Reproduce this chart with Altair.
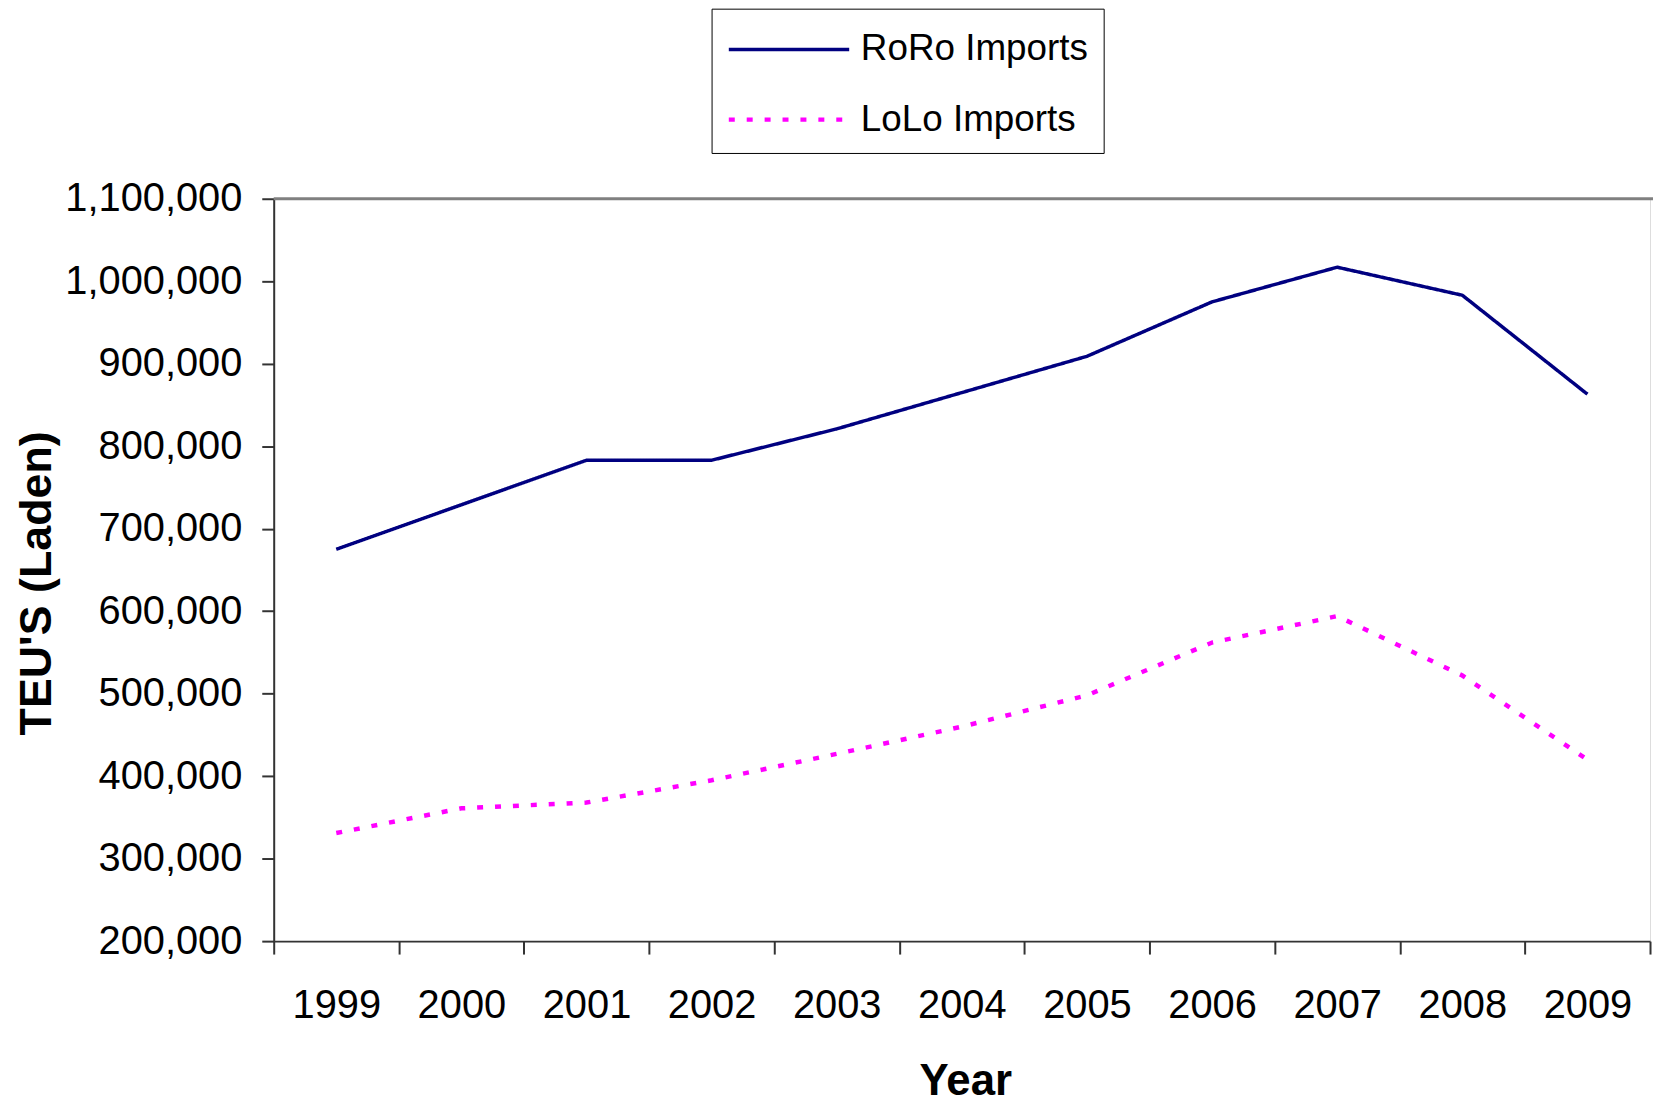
import altair as alt
import pandas as pd

years = ["1999", "2000", "2001", "2002", "2003", "2004", "2005", "2006", "2007", "2008", "2009"]
roro = [675000, 729000, 783000, 783000, 821000, 865000, 909000, 975000, 1017000, 983000, 863000]
lolo = [331000, 361000, 368000, 395000, 427000, 460000, 498000, 562000, 594000, 522000, 420000]
series_names = ["RoRo Imports", "LoLo Imports"]
series_colors = ["#000080", "#FF00FF"]
y_ticks = [200000, 300000, 400000, 500000, 600000, 700000, 800000, 900000, 1000000, 1100000]

df = pd.DataFrame({
    "Year": years + years,
    "TEU": roro + lolo,
    "Series": [series_names[0]] * len(years) + [series_names[1]] * len(years),
})

W, H = 1383, 746
FONT = "Liberation Sans, Arial, sans-serif"

legend = alt.Legend(
    title=None, orient="none", legendX=440, legendY=-191,
    symbolType="M-1,0H4", symbolSize=2342, symbolStrokeWidth=3,
    labelFont=FONT, labelFontSize=37, labelColor="black", labelLimit=500,
    labelOffset=82, padding=15, rowPadding=26,
    strokeColor="black", fillColor="white", cornerRadius=0,
)

lines = alt.Chart(df).mark_line(strokeCap="butt").encode(
    x=alt.X("Year:N", sort=years, bandPosition=0.5,
            scale=alt.Scale(type="band", paddingInner=0, paddingOuter=0),
            axis=alt.Axis(
                title="Year", titleFont=FONT, titleFontWeight="bold",
                titleFontSize=44, titleColor="black", titleX=695, titleY=154,
                titleBaseline="alphabetic", titleAlign="center",
                labelFont=FONT, labelFontSize=40, labelColor="black",
                labelAngle=0, labelPadding=32, tickBand="extent", tickSize=13,
                tickColor="#333333", tickWidth=2, domainColor="#333333", domainWidth=2,
                grid=False)),
    y=alt.Y("TEU:Q", scale=alt.Scale(domain=[200000, 1100000], nice=False, zero=False),
            axis=alt.Axis(
                title="TEU'S (Laden)", titleFont=FONT, titleFontWeight="bold",
                titleFontSize=45, titleColor="black", titleX=-224, titleY=386,
                titleBaseline="alphabetic", titleAlign="center", titleAngle=270,
                values=y_ticks, format=",.0f", formatType="number",
                labelFont=FONT, labelFontSize=40, labelColor="black",
                labelPadding=20, tickSize=12, tickColor="#333333", tickWidth=2,
                domainColor="#333333", domainWidth=2, grid=False)),
    color=alt.Color("Series:N", scale=alt.Scale(domain=series_names, range=series_colors),
                    legend=legend),
    strokeDash=alt.StrokeDash("Series:N",
                              scale=alt.Scale(domain=series_names, range=[[1, 0], [6, 12]]),
                              legend=legend),
    strokeWidth=alt.StrokeWidth("Series:N",
                                scale=alt.Scale(domain=series_names, range=[3.5, 4.5]),
                                legend=None),
)

top_border = alt.Chart(pd.DataFrame({"a": [0]})).mark_rule(
    color="#808080", strokeWidth=3
).encode(y=alt.value(0), x=alt.value(0), x2=alt.value(W + 10))

chart = alt.layer(lines, top_border).properties(
    width=W, height=H,
    autosize=alt.AutoSizeParams(type="none"),
    padding={"left": 267, "top": 189, "right": 3, "bottom": 162},
).configure_view(stroke=None).configure(background="white")

chart.save("out.html", embed_options={"renderer": "svg", "actions": False})
